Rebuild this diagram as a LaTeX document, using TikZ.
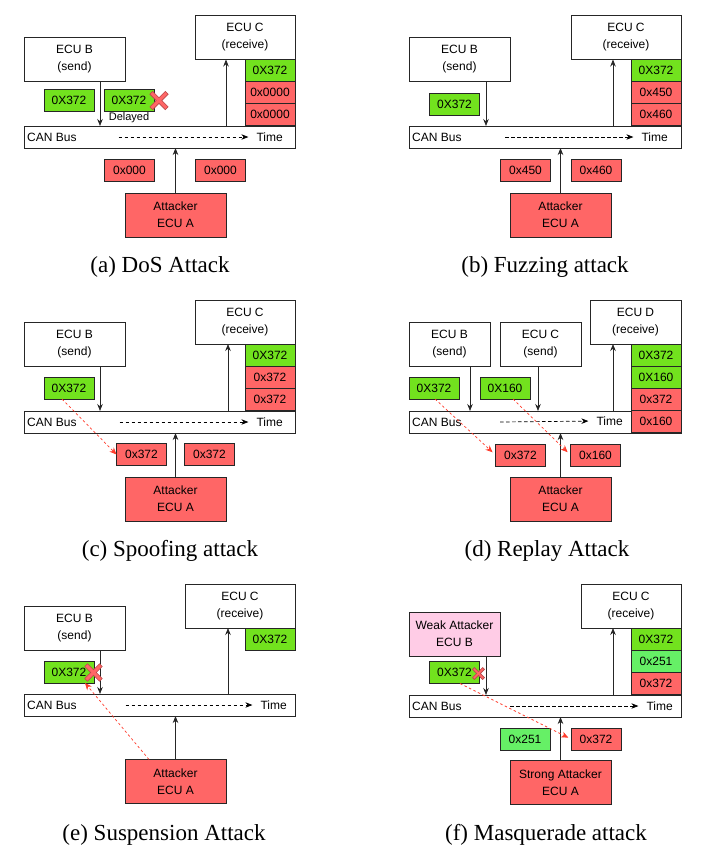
\documentclass[tikz,border=0pt]{standalone}
\usepackage{fontspec}
\setmainfont{Liberation Serif}
\setsansfont{Liberation Sans}
\usetikzlibrary{arrows.meta,positioning}
\definecolor{okgreen}{HTML}{72E21E}
\definecolor{palegreen}{HTML}{66F066}
\definecolor{badred}{HTML}{FF6666}
\definecolor{weakpink}{HTML}{FFCCE6}
\definecolor{hijackred}{HTML}{FF3B2B}
\definecolor{crossedge}{HTML}{B84A4A}
\tikzset{
  box/.style={draw=black!85, line width=0.7pt, inner sep=0pt, outer sep=0pt, align=center,
    font=\sffamily\fontsize{12}{17}\selectfont},
  ecu/.style={box, fill=white, minimum width=101pt, minimum height=44pt},
  attacker/.style={ecu, fill=badred},
  msg/.style={box, minimum width=50pt, minimum height=22pt},
  okmsg/.style={msg, fill=okgreen},
  softmsg/.style={msg, fill=palegreen},
  badmsg/.style={msg, fill=badred},
  bus/.style={box, fill=white, minimum width=271pt, minimum height=22pt},
  buslabel/.style={inner sep=1pt, font=\sffamily\fontsize{12}{14}\selectfont},
  note/.style={inner sep=0.5pt, font=\sffamily\fontsize{11}{13}\selectfont},
  sig/.style={-{Stealth[length=7pt,width=5.5pt]}, line width=0.7pt, black!85},
  timeline/.style={-{Stealth[length=7pt,width=5.5pt]}, line width=0.7pt, dash pattern=on 3.5pt off 2.5pt, shorten >=7pt},
  hijack/.style={-{Stealth[length=7pt,width=6pt]}, line width=0.7pt, hijackred, dash pattern=on 2.5pt off 2.5pt},
  caption/.style={anchor=base, inner sep=0pt, font=\fontsize{23}{27}\selectfont},
  xmark/.pic={\draw[rotate=45, fill=badred, draw=crossedge, line width=0.6pt]
    (2,11) -- (2,2) -- (11,2) -- (11,-2) -- (2,-2) -- (2,-11) -- (-2,-11) -- (-2,-2)
    -- (-11,-2) -- (-11,2) -- (-2,2) -- (-2,11) -- cycle;}
}
\begin{document}
\begin{tikzpicture}[x=1pt,y=-1pt]
\useasboundingbox (0,0) rectangle (702,855);
% (a) DoS attack
\node[ecu] (sendBa) at (74.5,59.5) {ECU B\\(send)};
\node[ecu, minimum width=100pt] (recvCa) at (245,37.5) {ECU C\\(receive)};
\node[okmsg, anchor=north east] (inA1) at (recvCa.south east) {0X372};
\node[badmsg, below=0pt of inA1] (inA2) {0x0000};
\node[badmsg, below=0pt of inA2] (inA3) {0x0000};
\node[bus] (busA) at (159.5,137) {};
\node[buslabel, anchor=west] (canA) at ([xshift=2pt]busA.west) {CAN Bus};
\node[buslabel, anchor=east] (timeA) at ([xshift=-11pt]busA.east) {Time};
\draw[timeline] ([xshift=-41pt]busA.center) -- (timeA.west);
\node[okmsg] (txA1) at (69,100.5) {0X372};
\node[okmsg] (txA2) at (129,100.5) {0X372};
\pic at (159,100.5) {xmark};
\node[note, below=0pt of txA2] (delayA) {Delayed};
\node[badmsg] (floodA1) at (129.5,170.5) {0x000};
\node[badmsg] (floodA2) at (220.5,170.5) {0x000};
\node[attacker] (atkA) at (175.5,215) {Attacker\\ECU A};
\draw[sig] ([xshift=25.5pt]sendBa.south) -- ([xshift=25.5pt]sendBa.south |- busA.north);
\draw[sig] ([xshift=-19pt]recvCa.south |- busA.north) -- ([xshift=-19pt]recvCa.south);
\draw[sig] (atkA.north) -- (atkA.north |- busA.south);
\node[caption] (capA) at (160,272) {(a) DoS Attack};

% (b) fuzzing attack
\node[ecu] (sendBb) at (459.5,59.5) {ECU B\\(send)};
\node[ecu, minimum width=110pt] (recvCb) at (626,37.5) {ECU C\\(receive)};
\node[okmsg, anchor=north east] (inB1) at (recvCb.south east) {0X372};
\node[badmsg, below=0pt of inB1] (inB2) {0x450};
\node[badmsg, below=0pt of inB2] (inB3) {0x460};
\node[bus, minimum width=272pt] (busB) at (545,137) {};
\node[buslabel, anchor=west] (canB) at ([xshift=2pt]busB.west) {CAN Bus};
\node[buslabel, anchor=east] (timeB) at ([xshift=-12pt]busB.east) {Time};
\draw[timeline] ([xshift=-40pt]busB.center) -- (timeB.west);
\node[okmsg] (txB1) at (454.5,104) {0X372};
\node[badmsg] (fuzzB1) at (525.5,170.5) {0x450};
\node[badmsg] (fuzzB2) at (596,170.5) {0x460};
\node[attacker] (atkB) at (560.5,215) {Attacker\\ECU A};
\draw[sig] ([xshift=26.5pt]sendBb.south) -- ([xshift=26.5pt]sendBb.south |- busB.north);
\draw[sig] ([xshift=-13pt]recvCb.south |- busB.north) -- ([xshift=-13pt]recvCb.south);
\draw[sig] (atkB.north) -- (atkB.north |- busB.south);
\node[caption] (capB) at (545,272) {(b) Fuzzing attack};

% (c) spoofing attack
\node[ecu] (sendBc) at (74.5,344) {ECU B\\(send)};
\node[ecu, minimum width=100pt] (recvCc) at (245,322) {ECU C\\(receive)};
\node[okmsg, anchor=north east] (inC1) at (recvCc.south east) {0X372};
\node[badmsg, below=0pt of inC1] (inC2) {0x372};
\node[badmsg, below=0pt of inC2] (inC3) {0x372};
\node[bus] (busC) at (159.5,422) {};
\node[buslabel, anchor=west] (canC) at ([xshift=2pt]busC.west) {CAN Bus};
\node[buslabel, anchor=east] (timeC) at ([xshift=-11pt]busC.east) {Time};
\draw[timeline] ([xshift=-40pt]busC.center) -- (timeC.west);
\node[okmsg] (txC1) at (69,388) {0X372};
\node[badmsg] (spoofC1) at (141.5,454.5) {0x372};
\node[badmsg] (spoofC2) at (209.5,454.5) {0x372};
\node[attacker] (atkC) at (175.5,499) {Attacker\\ECU A};
\draw[sig] ([xshift=25.5pt]sendBc.south) -- ([xshift=25.5pt]sendBc.south |- busC.north);
\draw[sig] ([xshift=-17pt]recvCc.south |- busC.north) -- ([xshift=-17pt]recvCc.south);
\draw[sig] (atkC.north) -- (atkC.north |- busC.south);
\draw[hijack] ([xshift=-7pt]txC1.south) -- (spoofC1.west);
\node[caption] (capC) at (170,556) {(c) Spoofing attack};

% (d) replay attack
\node[ecu, minimum width=81pt] (sendBd) at (449.5,344) {ECU B\\(send)};
\node[ecu, minimum width=81pt] (sendCd) at (540.5,344) {ECU C\\(send)};
\node[ecu, minimum width=91pt] (recvDd) at (635.5,322) {ECU D\\(receive)};
\node[bus, minimum width=272pt] (busD) at (545,422) {};
\node[okmsg, anchor=north east] (inD1) at (recvDd.south east) {0X372};
\node[okmsg, below=0pt of inD1] (inD2) {0X160};
\node[badmsg, below=0pt of inD2] (inD3) {0x372};
\node[badmsg, below=0pt of inD3] (inD4) {0x160};
\node[buslabel, anchor=west] (canD) at ([xshift=2pt]busD.west) {CAN Bus};
\node[buslabel, anchor=east] (timeD) at ([xshift=-7pt]inD4.west) {Time};
\draw[timeline] ([xshift=-45pt]busD.center) -- (timeD.west);
\node[okmsg] (txD1) at (434,388) {0X372};
\node[okmsg] (txD2) at (505,388) {0X160};
\node[badmsg] (replayD1) at (520.5,455) {0x372};
\node[badmsg] (replayD2) at (595.5,455) {0x160};
\node[attacker] (atkD) at (560.5,499) {Attacker\\ECU A};
\draw[sig] ([xshift=20.5pt]sendBd.south) -- ([xshift=20.5pt]sendBd.south |- busD.north);
\draw[sig] ([xshift=-2.5pt]sendCd.south) -- ([xshift=-2.5pt]sendCd.south |- busD.north);
\draw[sig] ([xshift=-22.5pt]recvDd.south |- busD.north) -- ([xshift=-22.5pt]recvDd.south);
\draw[sig] (atkD.north) -- (atkD.north |- busD.south);
\draw[hijack, shorten >=4pt] ([xshift=1pt]txD1.south) -- (replayD1.west);
\draw[hijack, shorten >=4pt] ([xshift=8pt]txD2.south) -- (replayD2.west);
\node[caption] (capD) at (547,556) {(d) Replay Attack};

% (e) suspension attack
\node[ecu] (sendBe) at (74.5,628) {ECU B\\(send)};
\node[ecu, minimum width=110pt] (recvCe) at (240,606) {ECU C\\(receive)};
\node[okmsg, anchor=north east] (inE1) at (recvCe.south east) {0X372};
\node[bus] (busE) at (159.5,705) {};
\node[buslabel, anchor=west] (canE) at ([xshift=2pt]busE.west) {CAN Bus};
\node[buslabel, anchor=east] (timeE) at ([xshift=-7pt]busE.east) {Time};
\draw[timeline] ([xshift=-34pt]busE.center) -- (timeE.west);
\node[okmsg] (txE1) at (69,672) {0X372};
\node[attacker] (atkE) at (175.5,781.5) {Attacker\\ECU A};
\draw[sig] ([xshift=25.5pt]sendBe.south) -- ([xshift=25.5pt]sendBe.south |- busE.north);
\pic[scale=0.95] at (93.5,672.5) {xmark};
\draw[sig] ([xshift=-12pt]recvCe.south |- busE.north) -- ([xshift=-12pt]recvCe.south);
\draw[sig] (atkE.north) -- (atkE.north |- busE.south);
\draw[hijack] ([xshift=-26.5pt]atkE.north) -- ([xshift=16pt]txE1.south);
\node[caption] (capE) at (164,840) {(e) Suspension Attack};

% (f) masquerade attack
\node[ecu, fill=weakpink, minimum width=91pt] (weakBf) at (454.5,634) {Weak Attacker\\ECU B};
\node[ecu, minimum width=100pt] (recvCf) at (631,606) {ECU C\\(receive)};
\node[okmsg, anchor=north east] (inF1) at (recvCf.south east) {0X372};
\node[softmsg, below=0pt of inF1] (inF2) {0x251};
\node[badmsg, below=0pt of inF2] (inF3) {0x372};
\node[bus, minimum width=272pt] (busF) at (545,706) {};
\node[buslabel, anchor=west] (canF) at ([xshift=2pt]busF.west) {CAN Bus};
\node[buslabel, anchor=east] (timeF) at ([xshift=-7pt]busF.east) {Time};
\draw[timeline] ([xshift=-35pt]busF.center) -- (timeF.west);
\node[okmsg] (txF1) at (454.5,672.5) {0X372};
\node[softmsg] (forgeF1) at (525,739) {0x251};
\node[badmsg] (forgeF2) at (596,739) {0x372};
\node[attacker] (atkF) at (560.5,782.5) {Strong Attacker\\ECU A};
\draw[sig] ([xshift=31.5pt]weakBf.south) -- ([xshift=31.5pt]weakBf.south |- busF.north);
\pic[scale=0.65] at (478.5,673.5) {xmark};
\draw[sig] ([xshift=-18pt]recvCf.south |- busF.north) -- ([xshift=-18pt]recvCf.south);
\draw[sig] (atkF.north) -- (atkF.north |- busF.south);
\draw[hijack, shorten >=3pt] ([xshift=5.5pt]txF1.south) -- (forgeF2.west);
\node[caption] (capF) at (546,840) {(f) Masquerade attack};
\end{tikzpicture}
\end{document}
